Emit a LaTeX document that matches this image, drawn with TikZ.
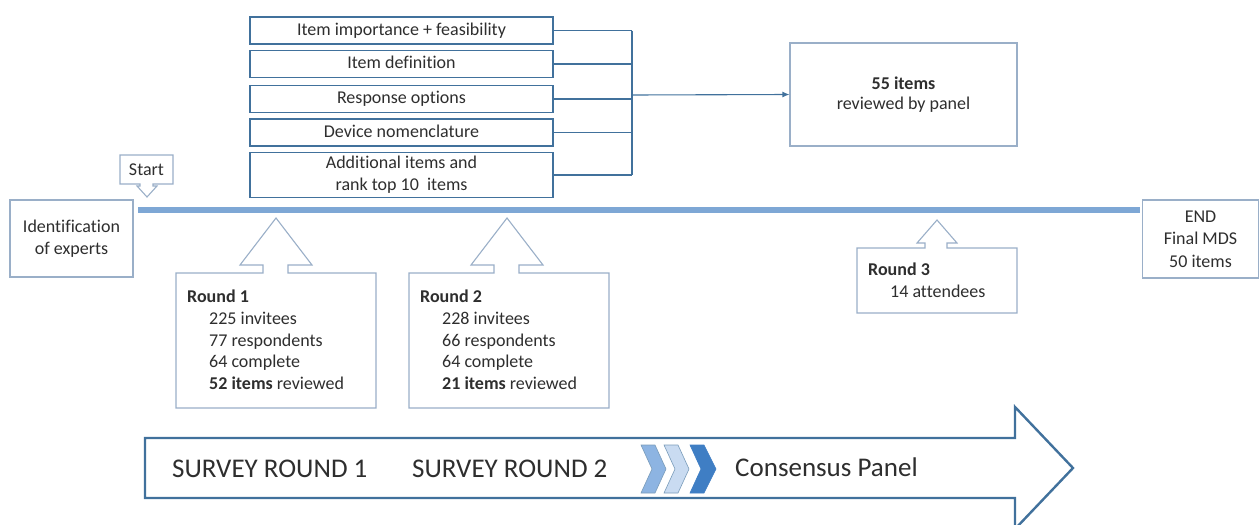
\documentclass[tikz,border=0pt]{standalone}
\usepackage{fontspec}
\setmainfont{Carlito}[Ligatures=NoCommon]
\usetikzlibrary{arrows.meta}
\definecolor{boxblue}{HTML}{41719C}
\definecolor{thinblue}{HTML}{9AAFC8}
\definecolor{lineblue}{HTML}{7EA7D5}
\definecolor{txt}{HTML}{2E2E2E}
\definecolor{chevA}{HTML}{8DB4E2}
\definecolor{chevB}{HTML}{C9DBF1}
\definecolor{chevC}{HTML}{3F7EC4}
\tikzset{
  every node/.style={text=txt, font=\fontsize{18}{21.7}\selectfont, inner sep=0pt},
  topbox/.style={draw=boxblue, line width=1.8pt, minimum width=303pt, align=center},
  thinbox/.style={draw=thinblue, line width=1.1pt, fill=white},
  callout/.style={draw=thinblue, line width=1.1pt, fill=white},
  bracket/.style={draw=boxblue, line width=1.1pt},
  bigtxt/.style={font=\fontsize{27}{30}\selectfont, anchor=west}
}
\begin{document}
\begin{tikzpicture}[x=1pt,y=-1pt]
\useasboundingbox (0,0) rectangle (1259,525);
% timeline
\coordinate (tl0) at (138,210);
\coordinate (tl1) at (1140,210);
\draw[lineblue, line width=6pt] (tl0) -- (tl1);
% start callout
\draw[callout] (120,155) -- (173,155) -- (173,184) -- (153,184) -- (153,186) -- (157,186) -- (147,197) -- (137,186) -- (140,186) -- (140,184) -- (120,184) -- cycle;
\node (start) at (146.5,169.5) {Start};
% identification
\node[thinbox, minimum width=123pt, minimum height=77pt, align=center, font=\fontsize{18}{22}\selectfont] (ident) at (71.5,238.5) {Identification\\of experts};
% END box
\node[thinbox, minimum width=116pt, minimum height=78pt, align=center, font=\fontsize{18}{22.5}\selectfont] (endbox) at (1200.5,239) {END\\Final MDS\\50 items};
% top boxes
\node[topbox, minimum height=27pt, text height=13pt, text depth=4pt] (b1) at (401.5,30.5) {Item importance + feasibility};
\node[topbox, minimum height=27pt, text height=13pt, text depth=4pt] (b2) at (401.5,64) {Item definition};
\node[topbox, minimum height=27pt, text height=13pt, text depth=4pt] (b3) at (401.5,99) {Response options};
\node[topbox, minimum height=27pt, text height=13pt, text depth=4pt] (b4) at (401.5,132.5) {Device nomenclature};
\node[topbox, minimum height=45pt] (b5) at (401.5,175) {Additional items and\\rank top 10~ items};
\coordinate (k1) at (632,30.5);
\coordinate (k5) at (632,175);
\coordinate (kmid) at (632,95);
\draw[bracket] (b1.east) -- (k1);
\draw[bracket] (b2.east) -- (632,64);
\draw[bracket] (b3.east) -- (632,99);
\draw[bracket] (b4.east) -- (632,132.5);
\draw[bracket] (b5.east) -- (k5);
\draw[bracket] (k1) -- (k5);
% 55 items
\node[draw=thinblue, line width=1.1pt, minimum width=227pt, minimum height=103pt, align=center, font=\fontsize{18}{20.5}\selectfont] (panel) at (903.5,94.5) {\textbf{55 items}\\reviewed by panel};
\draw[bracket, -{Latex[length=7pt,width=6pt]}] (kmid) -- (panel.west);
% round 1 callout
\draw[callout] (176,273) -- (263,273) -- (263,265) -- (240,265) -- (276,218) -- (312,265) -- (288,265) -- (288,273) -- (376,273) -- (376,408) -- (176,408) -- cycle;
\node[anchor=north west, align=left] (r1) at (187,290) {\textbf{Round 1}\\\hspace{22pt}225 invitees\\\hspace{22pt}77 respondents\\\hspace{22pt}64 complete\\\hspace{22pt}\textbf{52 items} reviewed};
% round 2 callout
\draw[callout] (409,273) -- (494,273) -- (494,265) -- (471,265) -- (507,218) -- (543,265) -- (519,265) -- (519,273) -- (609,273) -- (609,408) -- (409,408) -- cycle;
\node[anchor=north west, align=left] (r2) at (420,290) {\textbf{Round 2}\\\hspace{22pt}228 invitees\\\hspace{22pt}66 respondents\\\hspace{22pt}64 complete\\\hspace{22pt}\textbf{21 items} reviewed};
% round 3 callout
\draw[callout] (857,248) -- (925,248) -- (925,243) -- (917,243) -- (937,220) -- (957,243) -- (947,243) -- (947,248) -- (1017,248) -- (1017,313) -- (857,313) -- cycle;
\node[anchor=north west, align=left] (r3) at (868,263) {\textbf{Round 3}\\\hspace{22pt}14 attendees};
% big arrow
\draw[draw=boxblue, line width=2.4pt, fill=white, line join=miter] (145,438) -- (1015,438) -- (1015,407) -- (1073,468) -- (1015,529) -- (1015,498) -- (145,498) -- cycle;
\node[bigtxt] (s1) at (172,469) {SURVEY ROUND 1};
\node[bigtxt] (s2) at (412,469) {SURVEY ROUND 2};
\node[bigtxt] (cp) at (735,467) {Consensus Panel};
% chevrons
\fill[chevA, draw=boxblue!70, line width=0.6pt] (641,445) -- (655,445) -- (666,469) -- (655,493) -- (641,493) -- (652,469) -- cycle;
\fill[chevB, draw=boxblue!70, line width=0.6pt] (664,445) -- (678,445) -- (689,469) -- (678,493) -- (664,493) -- (675,469) -- cycle;
\fill[chevC, draw=chevC, line width=0.6pt] (690,445) -- (704,445) -- (716,469) -- (704,493) -- (690,493) -- (701,469) -- cycle;
\end{tikzpicture}
\end{document}
